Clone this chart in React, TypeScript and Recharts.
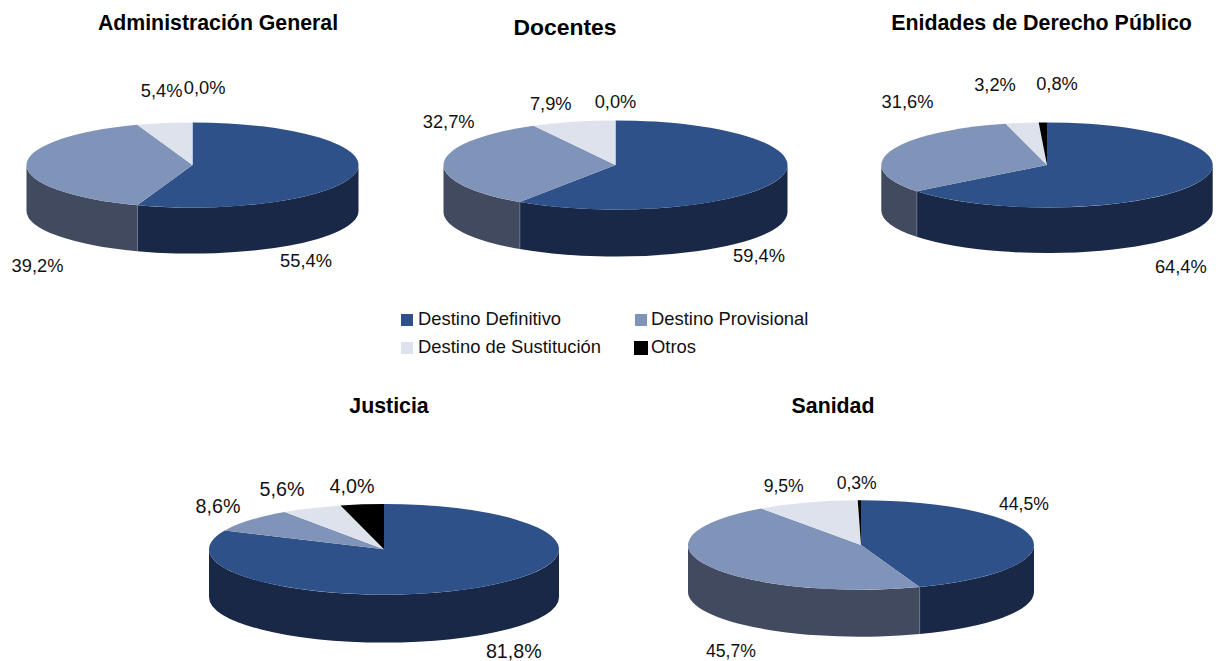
import { PieChart, Pie } from 'recharts'

const sliceNames = ['Destino Definitivo', 'Destino Provisional', 'Destino de Sustitución', 'Otros']
const topColors = ['#2F5189', '#8093B8', '#DEE2EC', '#000000']
const wallColors = ['#192846', '#414A5E', '#6F7177', '#000000']

const administracion = [55.4, 39.2, 5.4, 0]
const docentes = [59.4, 32.7, 7.9, 0]
const entidades = [64.4, 31.6, 3.2, 0.8]
const justicia = [81.8, 8.6, 5.6, 4.0]
const sanidad = [44.5, 45.7, 9.5, 0.3]

const FONT = '"Liberation Sans", Arial, sans-serif'

// geometry of each pie and where its labels sit (centre x, baseline y)
const pies = [
  {
    title: 'Administración General', values: administracion,
    cx: 192.5, cy: 165, rx: 166, ry: 42.6, depth: 46,
    titleX: 218, titleY: 30, titleSize: 21.3, labelSize: 18.3,
    labels: [[306, 267], [37.5, 272], [161.7, 97], [204.7, 94]],
  },
  {
    title: 'Docentes', values: docentes,
    cx: 615.5, cy: 165, rx: 172, ry: 44.6, depth: 47,
    titleX: 565, titleY: 35, titleSize: 22.9, labelSize: 18.3,
    labels: [[759, 262], [448.7, 128], [550.8, 110], [615.5, 108]],
  },
  {
    title: 'Enidades de Derecho Público', values: entidades,
    cx: 1047, cy: 165, rx: 165.7, ry: 42.6, depth: 45.5,
    titleX: 1041.5, titleY: 30, titleSize: 21.4, labelSize: 18.3,
    labels: [[1180.8, 273], [907.5, 108], [995, 91], [1057, 90]],
  },
  {
    title: 'Justicia', values: justicia,
    cx: 384, cy: 549.3, rx: 175, ry: 45.3, depth: 48,
    titleX: 389, titleY: 413, titleSize: 21.3, labelSize: 19.7,
    labels: [[513.8, 657.5], [218, 513], [282, 496], [352, 492.7]],
  },
  {
    title: 'Sanidad', values: sanidad,
    cx: 861, cy: 545, rx: 173, ry: 44.7, depth: 47,
    titleX: 833, titleY: 413, titleSize: 21.3, labelSize: 17.6,
    labels: [[1024, 510], [731, 657], [783.7, 491.7], [856.7, 489]],
  },
]

const legendSpots = [
  { x: 401, y: 314, size: 12, textX: 418, textY: 325 },
  { x: 635, y: 314, size: 12, textX: 651, textY: 325 },
  { x: 401, y: 342, size: 12, textX: 418, textY: 353 },
  { x: 634, y: 341, size: 14, textX: 651, textY: 353 },
]

const rad = (deg: number) => (deg * Math.PI) / 180

// recharts hands over circular sectors, these squash them into the tilted ellipse
const topShape = (ry: number) => (props: any) => {
  const { cx, cy, outerRadius: rx, startAngle, endAngle, fill } = props
  if (startAngle === endAngle) return <g />
  const x0 = cx + rx * Math.cos(rad(startAngle))
  const y0 = cy - ry * Math.sin(rad(startAngle))
  const x1 = cx + rx * Math.cos(rad(endAngle))
  const y1 = cy - ry * Math.sin(rad(endAngle))
  const large = Math.abs(startAngle - endAngle) > 180 ? 1 : 0
  const d = `M${cx},${cy} L${x0},${y0} A${rx},${ry} 0 ${large} 1 ${x1},${y1} Z`
  return <path d={d} fill={fill} />
}

const wallShape = (ry: number, depth: number) => (props: any) => {
  const { cx, cy, outerRadius: rx, startAngle, endAngle, fill } = props
  // only the front half of the rim is visible
  const hi = Math.min(startAngle, 0)
  const lo = Math.max(endAngle, -180)
  if (lo >= hi) return <g />
  const x0 = cx + rx * Math.cos(rad(hi))
  const y0 = cy - ry * Math.sin(rad(hi))
  const x1 = cx + rx * Math.cos(rad(lo))
  const y1 = cy - ry * Math.sin(rad(lo))
  const d = `M${x0},${y0} A${rx},${ry} 0 0 1 ${x1},${y1} L${x1},${y1 + depth} A${rx},${ry} 0 0 0 ${x0},${y0 + depth} Z`
  return (
    <g>
      <path d={d} fill={fill} />
      {lo > -180 && <line x1={x1} y1={y1} x2={x1} y2={y1 + depth} stroke="#A9B1C2" strokeWidth={0.75} />}
    </g>
  )
}

const formatPct = (v: number) => `${v.toFixed(1).replace('.', ',')}%`

export default function App() {
  return (
    <div style={{ position: 'absolute', left: 0, top: 0 }}>
      <PieChart width={1218} height={661} margin={{ top: 0, right: 0, bottom: 0, left: 0 }}>
        {pies.map((p) => {
          const walls = p.values.map((value, i) => ({ name: sliceNames[i], value, fill: wallColors[i] }))
          const tops = p.values.map((value, i) => ({ name: sliceNames[i], value, fill: topColors[i] }))
          const Wall = wallShape(p.ry, p.depth)
          const Top = topShape(p.ry)
          return [
            <Pie
              key={p.title + '-wall'}
              data={walls}
              dataKey="value"
              nameKey="name"
              cx={p.cx}
              cy={p.cy}
              innerRadius={0}
              outerRadius={p.rx}
              startAngle={90}
              endAngle={-270}
              stroke="none"
              shape={Wall}
              inactiveShape={Wall}
              isAnimationActive={false}
            />,
            <Pie
              key={p.title + '-top'}
              data={tops}
              dataKey="value"
              nameKey="name"
              cx={p.cx}
              cy={p.cy}
              innerRadius={0}
              outerRadius={p.rx}
              startAngle={90}
              endAngle={-270}
              stroke="none"
              shape={Top}
              inactiveShape={Top}
              isAnimationActive={false}
              labelLine={false}
              label={({ index }: any) => (
                <text
                  key={index}
                  x={p.labels[index][0]}
                  y={p.labels[index][1]}
                  textAnchor="middle"
                  fontFamily={FONT}
                  fontSize={p.labelSize}
                  fill="#111"
                >
                  {formatPct(p.values[index])}
                </text>
              )}
            />,
          ]
        })}

        {pies.map((p) => (
          <text
            key={p.title}
            x={p.titleX}
            y={p.titleY}
            textAnchor="middle"
            fontFamily={FONT}
            fontWeight="bold"
            fontSize={p.titleSize}
            fill="#000"
          >
            {p.title}
          </text>
        ))}

        {sliceNames.map((name, i) => (
          <g key={name}>
            <rect
              x={legendSpots[i].x}
              y={legendSpots[i].y}
              width={legendSpots[i].size}
              height={legendSpots[i].size}
              fill={topColors[i]}
            />
            <text x={legendSpots[i].textX} y={legendSpots[i].textY} fontFamily={FONT} fontSize={18.4} fill="#111">
              {name}
            </text>
          </g>
        ))}
      </PieChart>
    </div>
  )
}
